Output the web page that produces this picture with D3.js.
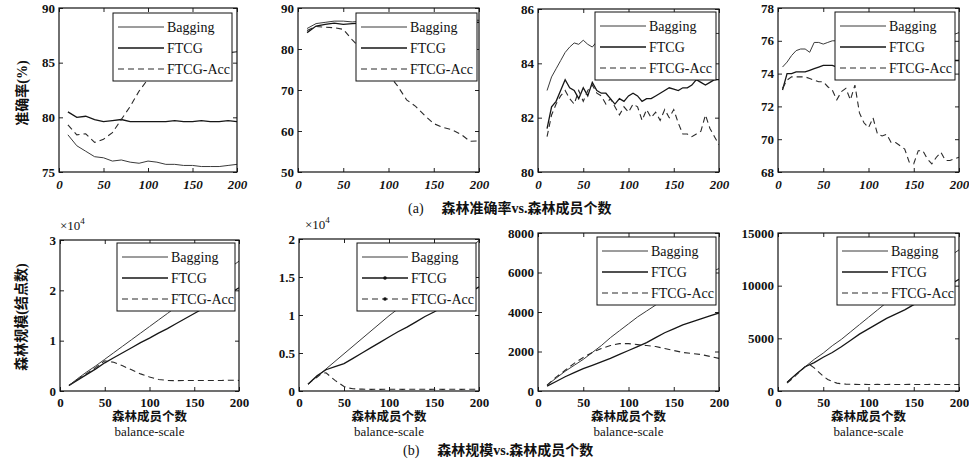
<!DOCTYPE html>
<html>
<head>
<meta charset="utf-8">
<script src="https://cdn.jsdelivr.net/npm/d3@7"></script>
</head>
<body style="margin:0;background:#fff;">
<script>
// number of forest members (x axis samples)
var members10 = [10,20,30,40,50,60,70,80,90,100,110,120,130,140,150,160,170,180,190,200];
var members5 = [10,15,20,25,30,35,40,45,50,55,60,65,70,75,80,85,90,95,100,105,110,115,120,125,130,135,140,145,150,155,160,165,170,175,180,185,190,195,200];
var members5b = [5,10,15,20,25,30,35,40,45,50,55,60,65,70,75,80,85,90,95,100,105,110,115,120,125,130,135,140,145,150,155,160,165,170,175,180,185,190,195,200];

var seriesNames = ["Bagging", "FTCG", "FTCG-Acc"];
var xTicks = [0, 50, 100, 150, 200];

// (a) accuracy (%)
var bagA1 = [78.4,77.4,76.9,76.4,76.3,76.0,76.1,75.9,75.8,76.0,75.9,75.7,75.7,75.6,75.6,75.5,75.5,75.5,75.6,75.7];
var ftcgA1 = [80.5,80.0,80.1,79.8,79.6,79.7,79.8,79.6,79.6,79.6,79.6,79.6,79.7,79.6,79.6,79.7,79.6,79.6,79.7,79.6];
var accA1 = [79.3,78.4,78.5,77.7,78.0,78.6,79.8,81.0,82.4,83.5,84.3,84.8,85.1,85.3,85.5,85.6,85.7,85.8,85.9,86.0];

var bagA2 = [85.0,86.2,86.5,86.8,86.8,86.6,86.8,86.9,87.0,87.0,87.0,87.1,87.0,87.1,87.0,87.0,87.1,87.0,87.1,87.0];
var ftcgA2 = [84.0,85.6,86.0,86.3,86.0,86.2,86.3,86.4,86.4,86.5,86.4,86.5,86.5,86.4,86.5,86.5,86.5,86.4,86.5,86.5];
var accA2 = [84.5,85.5,85.3,85.2,84.8,82.2,80.0,78.0,76.0,73.8,71.0,67.6,66.0,63.8,61.8,60.9,60.3,59.2,57.5,57.6];

var bagA3 = [83.0,83.5,83.8,84.1,84.4,84.6,84.75,84.7,84.85,84.7,84.6,84.8,84.9,85.0,85.0,85.1,85.0,85.1,85.0,85.1,85.1,85.0,85.1,85.1,85.0,85.1,85.2,85.1,85.1,85.1,85.2,85.1,85.1,85.2,85.1,85.1,85.2,85.1,85.1];
var ftcgA3 = [81.6,82.4,82.6,83.0,83.4,83.1,83.0,82.7,83.1,82.8,83.3,83.0,82.9,82.9,82.7,82.5,82.7,82.6,82.8,82.9,82.8,82.6,82.7,82.7,82.8,82.9,83.0,83.1,83.05,83.0,83.1,83.1,83.2,83.4,83.3,83.2,83.3,83.4,83.4];
var accA3 = [81.3,82.1,82.5,82.8,83.0,82.7,82.5,83.0,82.6,83.0,83.2,82.9,82.8,82.5,82.7,82.4,82.1,82.4,82.2,82.5,82.4,81.9,82.3,82.0,82.2,81.9,82.3,82.0,82.3,81.8,81.4,81.4,81.3,81.4,81.5,82.1,81.6,81.3,81.0];

var bagA4 = [74.4,74.7,75.1,75.4,75.5,75.5,75.3,75.9,75.9,75.8,75.9,76.0,76.0,76.1,76.0,76.1,76.2,76.1,76.2,76.2,76.1,76.2,76.3,76.2,76.2,76.3,76.2,76.3,76.3,76.2,76.3,76.3,76.4,76.3,76.3,76.4,76.3,76.4,76.4,76.5];
var ftcgA4 = [73.0,74.0,74.0,74.1,74.1,74.1,74.2,74.3,74.4,74.5,74.5,74.5,74.4,74.4,74.5,74.5,74.6,74.5,74.6,74.6,74.5,74.6,74.6,74.7,74.6,74.6,74.7,74.6,74.7,74.7,74.6,74.7,74.7,74.7,74.8,74.7,74.7,74.8,74.8,74.8];
var accA4 = [73.1,73.6,73.8,73.8,73.8,73.8,73.7,73.6,73.5,73.5,73.2,73.0,72.4,72.9,73.1,72.4,73.3,71.6,71.0,70.7,71.3,70.3,70.2,70.3,69.8,69.8,69.6,69.4,68.6,68.5,69.3,69.3,68.8,68.5,68.9,69.2,68.7,68.7,68.8,68.9];

// (b) forest size (number of nodes)
var bagB1 = [1100,2500,3800,5000,6300,7600,8900,10200,11500,12800,14100,15400,16700,18000,19300,20600,21900,23200,24500,25800];
var ftcgB1 = [1100,2200,3300,4400,5600,6600,7600,8600,9600,10500,11500,12400,13400,14400,15400,16400,17400,18400,19400,20500];
var accB1 = [1100,2300,3500,4700,6000,5700,5000,4200,3400,2800,2300,2100,2050,2100,2100,2100,2100,2100,2150,2100];

var bagB2 = [900,1900,2900,3900,4900,5900,6900,7900,8900,9900,10800,11800,12800,13800,14800,15800,16800,17800,18800,19800];
var ftcgB2 = [900,2000,2800,3200,3600,4300,5000,5700,6400,7100,7800,8400,9100,9800,10400,11100,11700,12400,13000,13700];
var accB2 = [900,1400,1800,2300,2400,1900,1400,1000,600,400,300,250,250,230,220,230,220,230,220,230,230,220,230,230,220,230,230,220,230,230,220,230,230,230,220,230,230,230,230];

var bagB3 = [300,650,1000,1300,1600,1950,2300,2700,3050,3400,3750,4050,4350,4650,4950,5250,5500,5750,6000,6200];
var ftcgB3 = [250,480,720,930,1130,1300,1470,1650,1850,2050,2250,2450,2700,2950,3150,3350,3500,3650,3800,3950];
var accB3 = [300,700,1050,1400,1700,1950,2150,2300,2400,2400,2350,2300,2250,2150,2050,1950,1900,1850,1750,1650];

var bagB4 = [850,1600,2300,3000,3600,4300,4900,5600,6300,7000,7700,8400,9000,9700,10300,10900,11500,12100,12800,13400];
var ftcgB4 = [800,1600,2300,2700,3200,3650,4200,4800,5400,5900,6400,6900,7300,7700,8200,8600,9100,9600,10100,10600];
var accB4 = [760,1100,1500,1900,2300,2500,2200,1800,1400,1100,900,750,680,650,640,630,620,630,620,620,630,620,620,630,620,620,620,630,620,620,620,620,630,620,620,620,620,620,620];

// line styles for the three methods
var styles = [
    { width: 1.0, color: "#3a3a3a", dash: null },
    { width: 1.3, color: "#161616", dash: null },
    { width: 1.1, color: "#2a2a2a", dash: "6,4" }
];

var SERIF = "Liberation Serif";
var CJK = "Liberation Serif, Noto Sans CJK SC";

var W = 969, H = 462;
var svg = d3.select("body").append("svg")
    .attr("width", W)
    .attr("height", H)
    .attr("font-family", SERIF)
    .style("display", "block")
    .style("background-color", "#fff");

var sci = function(d){ return d / 10000; };

//box = [left, top, right, bottom], legend = [left, top, width]
var panels = [
    { box: [59, 8, 237, 172], yDomain: [75, 90], yTicks: [75, 80, 85, 90], italic: true,
      data: [[members10, bagA1], [members10, ftcgA1], [members10, accA1]], legend: [113, 13, 119] },
    { box: [298, 8, 479, 172], yDomain: [50, 90], yTicks: [50, 60, 70, 80, 90], italic: true,
      data: [[members10, bagA2], [members10, ftcgA2], [members10, accA2]], legend: [356, 13, 121] },
    { box: [538, 9, 719, 172], yDomain: [80, 86], yTicks: [80, 82, 84, 86], italic: true,
      data: [[members5, bagA3], [members5, ftcgA3], [members5, accA3]], legend: [595, 12, 121] },
    { box: [778, 8, 959, 172], yDomain: [68, 78], yTicks: [68, 70, 72, 74, 76, 78], italic: true,
      data: [[members5b, bagA4], [members5b, ftcgA4], [members5b, accA4]], legend: [835, 12, 120] },
    { box: [60, 240, 239, 391], yDomain: [0, 30000], yTicks: [0, 10000, 20000, 30000], fmt: sci, exp: true,
      data: [[members10, bagB1], [members10, ftcgB1], [members10, accB1]], legend: [117, 243, 118] },
    { box: [299, 239, 479, 391], yDomain: [0, 20000], yTicks: [0, 5000, 10000, 15000, 20000], fmt: sci, exp: true, dots: true,
      data: [[members10, bagB2], [members10, ftcgB2], [members5, accB2]], legend: [357, 243, 119] },
    { box: [538, 233, 719, 391], yDomain: [0, 8000], yTicks: [0, 2000, 4000, 6000, 8000],
      data: [[members10, bagB3], [members10, ftcgB3], [members10, accB3]], legend: [597, 237, 119] },
    { box: [778, 233, 959, 391], yDomain: [0, 15000], yTicks: [0, 5000, 10000, 15000],
      data: [[members10, bagB4], [members10, ftcgB4], [members5, accB4]], legend: [837, 237, 118] }
];

//tick label look: serif, bold
function styleAxis(sel){
    sel.attr("font-family", SERIF)
        .attr("font-size", 13)
        .attr("font-weight", "bold");
    sel.select(".domain").remove();
    sel.selectAll(".tick line").attr("stroke", "#222");
    sel.selectAll(".tick text").attr("fill", "#111");
}

panels.forEach(function(p, pi){
    var x0 = p.box[0], y0 = p.box[1], x1 = p.box[2], y1 = p.box[3];
    var x = d3.scaleLinear().domain([0, 200]).range([x0, x1]);
    var y = d3.scaleLinear().domain(p.yDomain).range([y1, y0]);
    var g = svg.append("g").attr("class", "panel");

    //clip for the curves
    g.append("clipPath").attr("id", "clip" + pi)
        .append("rect").attr("x", x0).attr("y", y0).attr("width", x1 - x0).attr("height", y1 - y0);

    var line = d3.line()
        .x(function(d){ return x(d[0]); })
        .y(function(d){ return y(d[1]); });

    p.data.forEach(function(s, si){
        var pts = s[0].map(function(m, i){ return [m, s[1][i]]; });
        g.append("path")
            .datum(pts)
            .attr("clip-path", "url(#clip" + pi + ")")
            .attr("d", line)
            .attr("fill", "none")
            .attr("stroke", styles[si].color)
            .attr("stroke-width", styles[si].width)
            .attr("stroke-dasharray", styles[si].dash);
    });

    //axes, ticks pointing inward
    var bottom = g.append("g").attr("transform", "translate(0," + y1 + ")")
        .call(d3.axisBottom(x).tickValues(xTicks).tickSizeInner(-4).tickSizeOuter(0).tickPadding(p.italic ? 8 : 7))
        .call(styleAxis);
    if (p.italic) bottom.selectAll("text").attr("font-style", "italic");
    g.append("g").attr("transform", "translate(0," + y0 + ")")
        .call(d3.axisTop(x).tickValues(xTicks).tickSizeInner(-4).tickSizeOuter(0).tickFormat(""))
        .call(styleAxis);
    g.append("g").attr("transform", "translate(" + x0 + ",0)")
        .call(d3.axisLeft(y).tickValues(p.yTicks).tickSizeInner(-4).tickSizeOuter(0).tickPadding(4)
            .tickFormat(p.fmt || d3.format("d")))
        .call(styleAxis);
    g.append("g").attr("transform", "translate(" + x1 + ",0)")
        .call(d3.axisRight(y).tickValues(p.yTicks).tickSizeInner(-4).tickSizeOuter(0).tickFormat(""))
        .call(styleAxis);

    //frame
    g.append("rect")
        .attr("x", x0).attr("y", y0)
        .attr("width", x1 - x0).attr("height", y1 - y0)
        .attr("fill", "none").attr("stroke", "#111").attr("stroke-width", 1.2);

    //x10^4 multiplier
    if (p.exp) {
        var e = g.append("text")
            .attr("x", x0 + (pi === 5 ? 6 : 0)).attr("y", y0 - 10)
            .attr("font-family", SERIF).attr("font-size", 13).attr("fill", "#111");
        e.append("tspan").text("×10");
        e.append("tspan").attr("dy", -6).attr("font-size", 9).text("4");
    }

    //legend box (opaque, hides the curves under it)
    var lx = p.legend[0], ly = p.legend[1], lw = p.legend[2];
    var leg = g.append("g").attr("class", "legend");
    leg.append("rect")
        .attr("x", lx).attr("y", ly).attr("width", lw).attr("height", 68)
        .attr("fill", "#fff").attr("stroke", "#111").attr("stroke-width", 1);
    var rows = [14, 35, 56];
    seriesNames.forEach(function(name, si){
        var yy = ly + rows[si];
        leg.append("line")
            .attr("x1", lx + 5).attr("x2", lx + 51)
            .attr("y1", yy).attr("y2", yy)
            .attr("stroke", styles[si].color)
            .attr("stroke-width", styles[si].width)
            .attr("stroke-dasharray", styles[si].dash);
        if (p.dots && si > 0) {
            leg.append("circle").attr("cx", lx + 28).attr("cy", yy).attr("r", 1.8).attr("fill", "#111");
        }
        leg.append("text")
            .attr("x", lx + 54).attr("y", yy + 5)
            .attr("font-family", SERIF).attr("font-size", 14).attr("fill", "#111")
            .text(name);
    });

    //bottom row x labels
    if (!p.italic) {
        var cx = (x0 + x1) / 2;
        g.append("text")
            .attr("x", cx).attr("y", 421).attr("text-anchor", "middle")
            .attr("font-family", CJK).attr("font-weight", "bold").attr("font-size", 12.5).attr("fill", "#111")
            .text("森林成员个数");
        g.append("text")
            .attr("x", cx).attr("y", 436).attr("text-anchor", "middle")
            .attr("font-family", SERIF).attr("font-size", 13).attr("fill", "#111")
            .text("balance-scale");
    }
});

//y axis titles
svg.append("text")
    .attr("transform", "translate(27,93) rotate(-90)")
    .attr("text-anchor", "middle")
    .attr("font-family", CJK).attr("font-weight", "bold").attr("font-size", 14).attr("fill", "#111")
    .text("准确率(%)");
svg.append("text")
    .attr("transform", "translate(26,317) rotate(-90)")
    .attr("text-anchor", "middle")
    .attr("font-family", CJK).attr("font-weight", "bold").attr("font-size", 14).attr("fill", "#111")
    .text("森林规模(结点数)");

//sub figure captions
var capA = svg.append("text").attr("x", 408).attr("y", 213)
    .attr("font-family", CJK).attr("font-size", 14).attr("fill", "#111");
capA.append("tspan").text("(a)");
capA.append("tspan").attr("dx", 18).attr("font-weight", "bold").text("森林准确率vs.森林成员个数");

var capB = svg.append("text").attr("x", 403).attr("y", 455)
    .attr("font-family", CJK).attr("font-size", 14).attr("fill", "#111");
capB.append("tspan").text("(b)");
capB.append("tspan").attr("dx", 18).attr("font-weight", "bold").text("森林规模vs.森林成员个数");
</script>
</body>
</html>
